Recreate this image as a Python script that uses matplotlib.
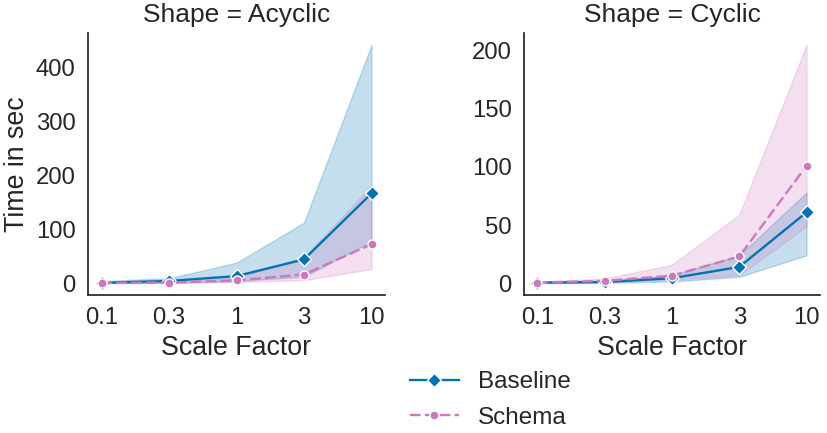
import matplotlib
matplotlib.use('Agg')
import matplotlib.pyplot as plt
import numpy as np

plt.rcParams['font.family'] = ['Liberation Sans', 'DejaVu Sans']
plt.rcParams['text.color'] = '#262626'
plt.rcParams['axes.labelcolor'] = '#262626'
plt.rcParams['xtick.color'] = '#262626'
plt.rcParams['ytick.color'] = '#262626'

# ---- data ----
scale_labels = ['0.1', '0.3', '1', '3', '10']
shapes = ['Acyclic', 'Cyclic']

acyc_base_mean = [0.5, 4, 13, 44, 166]
acyc_base_lo = [0.1, 0.5, 4, 12, 77]
acyc_base_hi = [4, 9, 38, 112, 441]
acyc_schema_mean = [0.5, 1, 5, 16, 72]
acyc_schema_lo = [0.1, 0.3, 2, 5.5, 26]
acyc_schema_hi = [1, 3, 10, 48, 181]

cyc_base_mean = [0.5, 1, 4.3, 14, 61]
cyc_base_lo = [0.1, 0.3, 1.5, 5.5, 24]
cyc_base_hi = [1, 2, 7, 24, 78]
cyc_schema_mean = [0.6, 2, 6.5, 23, 101]
cyc_schema_lo = [0.2, 1, 3, 7, 49]
cyc_schema_hi = [1.2, 4, 16, 59, 205]

panels = {
    'Acyclic': [(acyc_base_mean, acyc_base_lo, acyc_base_hi),
                (acyc_schema_mean, acyc_schema_lo, acyc_schema_hi)],
    'Cyclic': [(cyc_base_mean, cyc_base_lo, cyc_base_hi),
               (cyc_schema_mean, cyc_schema_lo, cyc_schema_hi)],
}

methods = ['Baseline', 'Schema']
colors = {'Baseline': '#0173b2', 'Schema': '#cc78bc'}
markers = {'Baseline': 'D', 'Schema': 'o'}
msizes = {'Baseline': 7.5, 'Schema': 6.5}
dashes = {'Baseline': (None, None), 'Schema': (4.5, 1.8)}

fig = plt.figure(figsize=(8.27, 4.33), dpi=100)
W, H = 827, 433
ax_boxes = [(88, 385), (524, 820)]
top_px, bot_px = 33, 295

x = np.arange(len(scale_labels))
handles = []
for (l, r), shape in zip(ax_boxes, shapes):
    ax = fig.add_axes([l / W, 1 - bot_px / H, (r - l) / W, (bot_px - top_px) / H])
    for m, (mean, lo, hi) in zip(methods, panels[shape]):
        ax.fill_between(x, lo, hi, color=colors[m], alpha=0.23, linewidth=1)
    for m, (mean, lo, hi) in zip(methods, panels[shape]):
        ln, = ax.plot(x, mean, color=colors[m], lw=1.7, marker=markers[m],
                      ms=msizes[m], mec='white', mew=1.0, label=m)
        if m == 'Schema':
            ln.set_dashes(dashes[m])
        if shape == 'Acyclic':
            handles.append(ln)
    ax.set_xticks(x)
    ax.set_xticklabels(scale_labels)
    ax.margins(x=0.05, y=0.05)
    ax.tick_params(length=0, pad=9, labelsize=17.2)
    for s in ['top', 'right']:
        ax.spines[s].set_visible(False)
    for s in ['left', 'bottom']:
        ax.spines[s].set_color('#262626')
        ax.spines[s].set_linewidth(1.25)
    ax.set_xlabel('Scale Factor', fontsize=19.3, labelpad=4)
    ax.set_title(f'Shape = {shape}', fontsize=19, pad=8)
    if shape == 'Acyclic':
        ax.set_ylabel('Time in sec', fontsize=19.3, labelpad=4)

fig.legend(handles=handles, labels=methods, loc='center left',
           bbox_to_anchor=(410 / W, 1 - 400 / H), frameon=False,
           borderaxespad=0, borderpad=0, fontsize=17.5, handlelength=2.0,
           handletextpad=0.8, labelspacing=0.55)

fig.savefig('out.png', dpi=100)
